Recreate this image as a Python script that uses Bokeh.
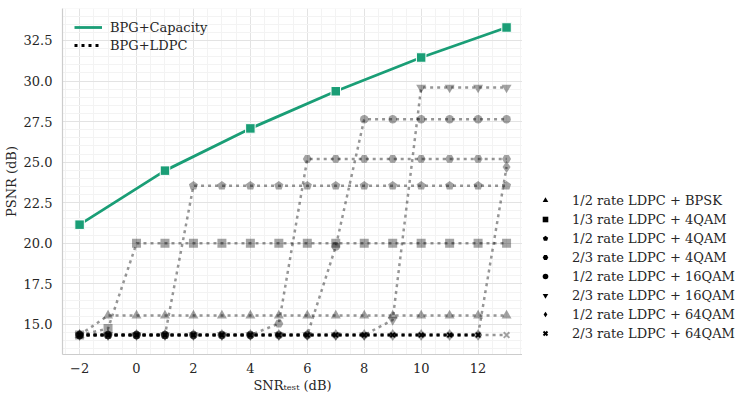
import numpy as np
from bokeh.plotting import figure
from bokeh.layouts import row
from bokeh.models import Range1d, FixedTicker, Legend, LegendItem, NumeralTickFormatter
from bokeh.embed import file_html
from bokeh.resources import INLINE

# ---------------- data ----------------
snr = [-2, -1, 0, 1, 2, 3, 4, 5, 6, 7, 8, 9, 10, 11, 12, 13]

cap_snr = [-2, 1, 4, 7, 10, 13]
cap_psnr = [21.15, 24.48, 27.08, 29.37, 31.45, 33.3]

ldpc_snr = [-2, -1, 0, 1, 2, 3, 4, 5, 6, 7, 8, 9, 10, 11, 12]
ldpc_psnr = [14.35, 14.35, 14.35, 14.35, 14.35, 14.35, 14.35, 14.35,
             14.35, 14.35, 14.35, 14.35, 14.35, 14.35, 14.35]

bpsk_12 = [14.35, 15.55, 15.55, 15.55, 15.55, 15.55, 15.55, 15.55,
           15.55, 15.55, 15.55, 15.55, 15.55, 15.55, 15.55, 15.55]
qam4_13 = [14.35, 14.75, 20.0, 20.0, 20.0, 20.0, 20.0, 20.0,
           20.0, 20.0, 20.0, 20.0, 20.0, 20.0, 20.0, 20.0]
qam4_12 = [14.35, 14.35, 14.35, 14.35, 23.55, 23.55, 23.55, 23.55,
           23.55, 23.55, 23.55, 23.55, 23.55, 23.55, 23.55, 23.55]
qam4_23 = [14.35, 14.35, 14.35, 14.35, 14.35, 14.35, 14.35, 15.05,
           25.2, 25.2, 25.2, 25.2, 25.2, 25.2, 25.2, 25.2]
qam16_12 = [14.35, 14.35, 14.35, 14.35, 14.35, 14.35, 14.35, 14.35,
            14.35, 19.8, 27.65, 27.65, 27.65, 27.65, 27.65, 27.65]
qam16_23 = [14.35, 14.35, 14.35, 14.35, 14.35, 14.35, 14.35, 14.35,
            14.35, 14.35, 14.35, 15.28, 29.6, 29.6, 29.6, 29.6]
qam64_12 = [14.35, 14.35, 14.35, 14.35, 14.35, 14.35, 14.35, 14.35,
            14.35, 14.35, 14.35, 14.35, 14.35, 14.35, 14.35, 24.7]
qam64_23 = [14.35, 14.35, 14.35, 14.35, 14.35, 14.35, 14.35, 14.35,
            14.35, 14.35, 14.35, 14.35, 14.35, 14.35, 14.35, 14.35]

series_labels = ["1/2 rate LDPC + BPSK", "1/3 rate LDPC + 4QAM", "1/2 rate LDPC + 4QAM",
                 "2/3 rate LDPC + 4QAM", "1/2 rate LDPC + 16QAM", "2/3 rate LDPC + 16QAM",
                 "1/2 rate LDPC + 64QAM", "2/3 rate LDPC + 64QAM"]
series_values = [bpsk_12, qam4_13, qam4_12, qam4_23, qam16_12, qam16_23, qam64_12, qam64_23]
series_markers = ["triangle", "square", "pentagon", "hex", "circle",
                  "inverted_triangle", "diamond", "x"]

x_ticks = [-2, 0, 2, 4, 6, 8, 10, 12]
y_ticks = [15.0, 17.5, 20.0, 22.5, 25.0, 27.5, 30.0, 32.5]

# ---------------- figure ----------------
FONT = "'DejaVu Serif', 'Liberation Serif', serif"
FS = "13px"
TXT = "#262626"
H = 399

p = figure(width=522, height=H, output_backend="svg", toolbar_location=None,
           x_range=Range1d(-2.6, 13.56), y_range=Range1d(13.15, 34.47),
           min_border_left=60, min_border_right=0, min_border_top=8, min_border_bottom=45)
p.outline_line_color = None
p.background_fill_color = "white"
p.border_fill_color = "white"

p.xaxis.ticker = FixedTicker(ticks=x_ticks, minor_ticks=list(np.arange(-2.5, 14.0, 0.5)))
p.yaxis.ticker = FixedTicker(ticks=y_ticks, minor_ticks=list(np.arange(13.0, 35.0, 0.5)))
p.yaxis.formatter = NumeralTickFormatter(format="0.0")
p.xaxis.major_label_overrides = {-2: "\u22122"}

for ax in (p.xaxis[0], p.yaxis[0]):
    ax.major_tick_line_color = None
    ax.minor_tick_line_color = None
    ax.axis_line_color = "#cccccc"
    ax.axis_line_width = 1.2
    ax.major_label_text_font = FONT
    ax.major_label_text_font_size = FS
    ax.major_label_text_color = TXT
    ax.axis_label_text_font = FONT
    ax.axis_label_text_font_size = FS
    ax.axis_label_text_color = TXT
    ax.axis_label_text_font_style = "normal"

p.yaxis.major_label_standoff = 4
p.xaxis.major_label_standoff = 2
p.yaxis.axis_label = "PSNR (dB)"
p.yaxis.axis_label_standoff = 2
p.xaxis.axis_label = "SNR\u209c\u2091\u209b\u209c (dB)"
p.xaxis.axis_label_standoff = 2

for g in (p.xgrid[0], p.ygrid[0]):
    g.grid_line_color = "#e3e3e3"
    g.grid_line_width = 1
    g.minor_grid_line_color = "#f3f3f3"
    g.minor_grid_line_width = 1

# legend-only figure on the right
q = figure(width=226, height=H, output_backend="svg", toolbar_location=None,
           x_range=Range1d(0, 1), y_range=Range1d(0, 1),
           x_axis_type=None, y_axis_type=None,
           min_border_left=0, min_border_right=0, min_border_top=0, min_border_bottom=0)
q.outline_line_color = None
q.background_fill_color = "white"
q.border_fill_color = "white"

GREY_ALPHA = 0.36
legend_items = []
for lab, vals, mk in zip(series_labels, series_values, series_markers):
    p.line(snr, vals, line_color="black", line_alpha=GREY_ALPHA + 0.05, line_width=2.5,
           line_dash="3 4")
    if mk == "pentagon":
        try:
            p.ngon(x=snr, y=vals, radius=4.8, radius_units="screen", n=5,
                   fill_color="black", fill_alpha=GREY_ALPHA, line_color=None)
            leg_r = q.ngon(x=[np.nan], y=[np.nan], radius=3.8, radius_units="screen", n=5,
                           fill_color="black", line_color=None)
        except Exception:
            p.scatter(snr, vals, marker="hex", size=8, fill_color="black",
                      fill_alpha=GREY_ALPHA, line_color=None)
            leg_r = q.scatter([np.nan], [np.nan], marker="hex", size=6,
                              fill_color="black", line_color=None)
    elif mk == "x":
        p.scatter(snr, vals, marker="x", size=8, line_color="black",
                  line_alpha=GREY_ALPHA, line_width=2)
        leg_r = q.scatter([np.nan], [np.nan], marker="x", size=7,
                          line_color="black", line_width=2)
    else:
        sz = {"triangle": 10, "square": 9, "hex": 9, "circle": 8.5,
              "inverted_triangle": 10, "diamond": 12}[mk]
        lsz = {"triangle": 8.5, "square": 8.5, "hex": 7.5, "circle": 7.5,
               "inverted_triangle": 8.5, "diamond": 17}[mk]
        p.scatter(snr, vals, marker=mk, size=sz, fill_color="black",
                  fill_alpha=GREY_ALPHA, line_color=None)
        leg_r = q.scatter([np.nan], [np.nan], marker=mk, size=lsz,
                          fill_color="black", line_color=None)
    legend_items.append(LegendItem(label=lab, renderers=[leg_r]))

# BPG + LDPC (black dotted)
r_ldpc = p.line(ldpc_snr, ldpc_psnr, line_color="black", line_width=3, line_dash="3 4")
p.scatter(ldpc_snr, ldpc_psnr, marker="x", size=6, line_color="black", line_width=1.8)

# BPG + Capacity (green)
GREEN = "#1a9e76"
r_cap = p.line(cap_snr, cap_psnr, line_color=GREEN, line_width=2.8)
p.scatter(cap_snr, cap_psnr, marker="square", size=9.5, fill_color=GREEN,
          line_color="white", line_width=1)

leg1 = Legend(items=[LegendItem(label="BPG+Capacity", renderers=[r_cap]),
                     LegendItem(label="BPG+LDPC", renderers=[r_ldpc])],
              location=(12, 300), glyph_width=28, glyph_height=18, label_height=18,
              label_standoff=8, spacing=0, padding=0, margin=0,
              label_text_font=FONT, label_text_font_size=FS, label_text_color=TXT,
              border_line_color=None, background_fill_alpha=0)
p.add_layout(leg1)

leg2 = Legend(items=legend_items, location=(16, 13), glyph_width=14, glyph_height=16,
              label_height=16, label_standoff=20, spacing=3, padding=0, margin=0,
              label_text_font=FONT, label_text_font_size=FS, label_text_color=TXT,
              border_line_color=None, background_fill_alpha=0)
q.add_layout(leg2)

layout = row(p, q, spacing=0)
open("out.html", "w").write(file_html(layout, INLINE))
